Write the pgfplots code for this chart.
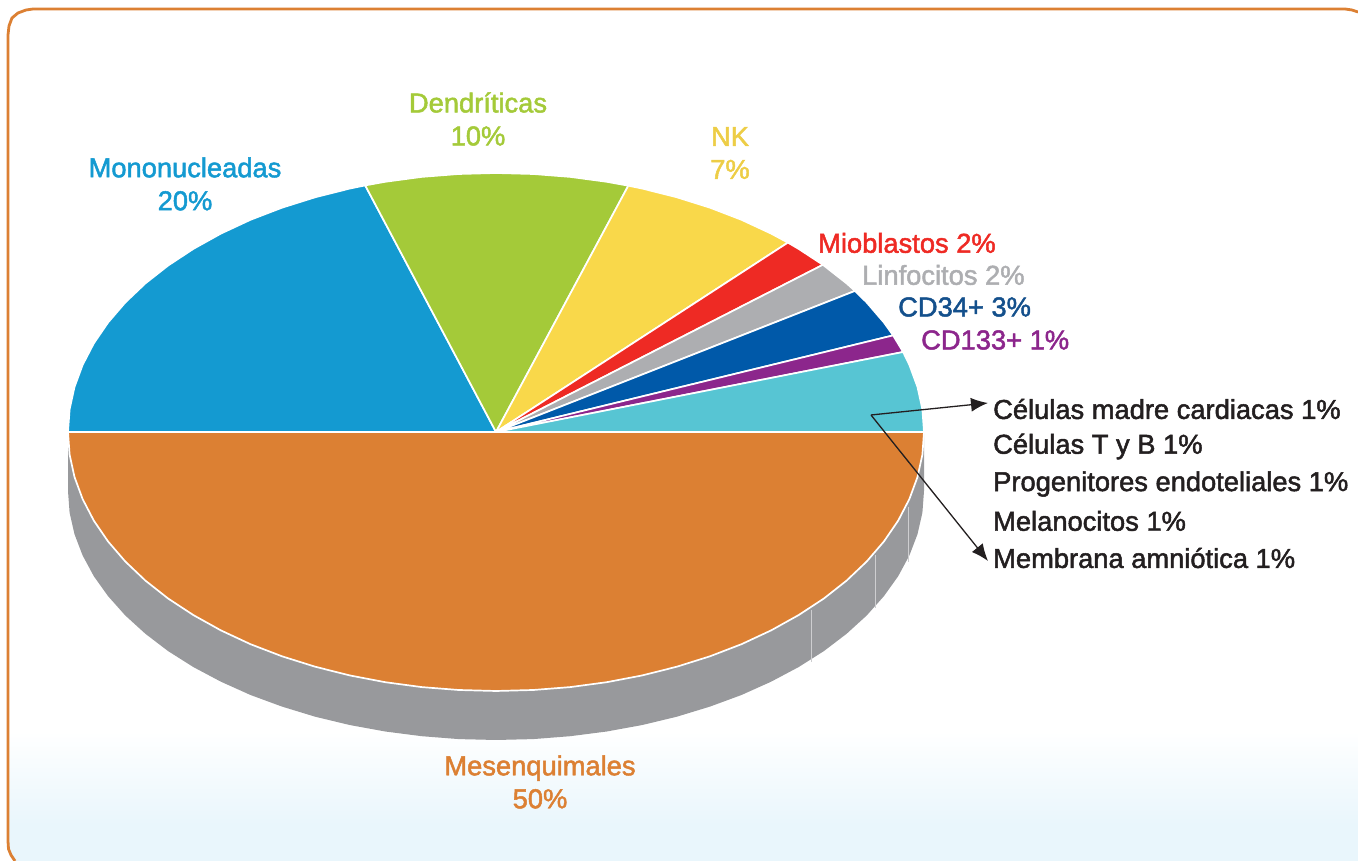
\documentclass[border=0pt]{standalone}
\usepackage{fontspec}
\setmainfont{Liberation Sans}[FakeBold=1.8]
\usepackage{pgfplots}
\pgfplotsset{compat=1.18}
\usetikzlibrary{arrows.meta}
\definecolor{cMono}{HTML}{149AD1}
\definecolor{cDend}{HTML}{A4CA39}
\definecolor{cNK}{HTML}{F9D84A}
\definecolor{cMio}{HTML}{EE2A24}
\definecolor{cLin}{HTML}{ADAEB1}
\definecolor{cCD34}{HTML}{0059A9}
\definecolor{cCD34t}{HTML}{14508C}
\definecolor{cCD133}{HTML}{8C268C}
\definecolor{cTeal}{HTML}{57C5D3}
\definecolor{cOr}{HTML}{DC8033}
\definecolor{cGr}{HTML}{98999C}
\definecolor{cBlue}{HTML}{E9F6FC}
\definecolor{cTxt}{HTML}{231F20}
\begin{document}
\begin{tikzpicture}
\path[use as bounding box] (0,0) rectangle (1358pt,861pt);
\begin{axis}[
  scale only axis, width=1358pt, height=861pt,
  xmin=0, xmax=1358, ymin=0, ymax=861,
  hide axis, clip=true,
  nodes={font=\fontsize{27.3}{32}\selectfont},
  wedge/.style={draw=white, line width=1.7pt, line join=round, fill=#1},
]
% panel background
\fill[top color=white, bottom color=cBlue] (axis cs:8,130) rectangle (axis cs:1358,36);
\fill[cBlue] (axis cs:8,36.5)--(axis cs:1358,36.5)--(axis cs:1358,0)--(axis cs:15,0)--(axis cs:11,6)--(axis cs:8.5,12)--cycle;
\addplot[draw=cOr, line width=2.8pt] coordinates {(15,0)(11,6)(8.5,12)(8,20)(8,826)(9,835)(12,843)(18,848)(26,851)(33,852)(1345,852)(1352,851)(1358,849)};
% side of the disc
\addplot[fill=cGr, draw=none] coordinates {
(68,429)(68,370)(69.6,348.3)(74.5,326.8)(82.6,305.6)(93.8,284.8)(108.1,264.8)(125.3,245.5)(145.4,227.2)(168.1,209.9)(193.4,193.9)(220.9,179.3)(250.5,166.0)(282,154.4)(315.1,144.3)(349.6,136.0)(385.2,129.5)(421.7,124.8)(458.7,121.9)(496,121)(533.3,121.9)(570.3,124.8)(606.8,129.5)(642.4,136.0)(676.9,144.3)(710,154.4)(741.5,166.0)(771.1,179.3)(798.6,193.9)(823.9,209.9)(846.6,227.2)(866.7,245.5)(883.9,264.8)(898.2,284.8)(909.4,305.6)(917.5,326.8)(922.4,348.3)(924,370)(924,429)} --cycle;
\addplot[draw=cLin!60!white, line width=0.8pt] coordinates {(908,354)(908,299)};
\addplot[draw=cLin!60!white, line width=0.8pt] coordinates {(875.5,306)(875.5,253)};
\addplot[draw=cLin!60!white, line width=0.8pt] coordinates {(811.5,251)(811.5,199)};
% Mesenquimales 50
\addplot[wedge=cOr] coordinates {
(68,429)(69.6,406.4)(74.5,384.0)(82.6,362.0)(93.8,340.4)(108.1,319.5)(125.3,299.5)(145.4,280.4)(168.1,262.5)(193.4,245.9)(220.9,230.6)(250.5,216.8)(282,204.7)(315.1,194.3)(349.6,185.6)(385.2,178.8)(421.7,173.9)(458.7,171.0)(496,170)(533.3,171.0)(570.3,173.9)(606.8,178.8)(642.4,185.6)(676.9,194.3)(710,204.7)(741.5,216.8)(771.1,230.6)(798.6,245.9)(823.9,262.5)(846.6,280.4)(866.7,299.5)(883.9,319.5)(898.2,340.4)(909.4,362.0)(917.5,384.0)(922.4,406.4)(924,429)} --cycle;
% Mononucleadas 20
\addplot[wedge=cMono] coordinates {
(496,429)(365.2,675.6)(349.6,672.4)(315.1,663.7)(282,653.3)(250.5,641.2)(220.9,627.4)(193.4,612.1)(168.2,595.5)(145.4,577.6)(125.3,558.5)(108.1,538.5)(93.8,517.6)(82.6,496.0)(74.5,474.0)(69.6,451.6)(68,429)} --cycle;
% Dendriticas 10
\addplot[wedge=cDend] coordinates {
(496,429)(628.3,675.3)(606.8,679.2)(570.3,684.1)(533.3,687.0)(496,688)(458.7,687.0)(421.7,684.1)(385.2,679.2)(365.2,675.6)} --cycle;
% NK 7
\addplot[wedge=cNK] coordinates {
(496,429)(787.9,618.4)(771.1,627.4)(741.5,641.2)(710,653.3)(676.9,663.7)(642.4,672.4)(628.3,675.3)} --cycle;
% Mioblastos 2
\addplot[wedge=cMio] coordinates {(496,429)(822.9,596.2)(798.6,612.1)(787.9,618.4)} --cycle;
% Linfocitos 2
\addplot[wedge=cLin] coordinates {(496,429)(855.0,570.1)(846.6,577.6)(822.9,596.2)} --cycle;
% CD34+ 3
\addplot[wedge=cCD34] coordinates {(496,429)(893.1,525.6)(883.9,538.5)(866.7,558.5)(855.0,570.1)} --cycle;
% CD133+ 1
\addplot[wedge=cCD133] coordinates {(496,429)(903.1,509.0)(893.1,525.6)} --cycle;
% remaining 5 x 1
\addplot[wedge=cTeal] coordinates {(496,429)(924,429)(922.4,451.6)(917.5,474.0)(909.4,496.0)(903.1,509.0)} --cycle;
% leaders
\addplot[draw=cTxt, line width=1.3pt, -{Latex[length=17pt,width=14pt]}] coordinates {(871,446)(988,458)};
\addplot[draw=cTxt, line width=1.3pt, -{Latex[length=17pt,width=14pt]}] coordinates {(871,446)(988,300)};
% labels
\node[text=cMono,align=center] at (axis cs:185,677) {Mononucleadas\\[1pt]20\%};
\node[text=cDend,align=center] at (axis cs:478,742) {Dendríticas\\[1pt]10\%};
\node[text=cNK!95!black,align=center] at (axis cs:730,708) {NK\\[1pt]7\%};
\node[text=cMio,anchor=west,inner sep=0pt] at (axis cs:818,618) {Mioblastos 2\%};
\node[text=cLin,anchor=west,inner sep=0pt] at (axis cs:862,586) {Linfocitos 2\%};
\node[text=cCD34t,anchor=west,inner sep=0pt] at (axis cs:898,554) {CD34+ 3\%};
\node[text=cCD133,anchor=west,inner sep=0pt] at (axis cs:921,521) {CD133+ 1\%};
\node[text=cTxt,anchor=west,inner sep=0pt] at (axis cs:993,452) {Células madre cardiacas 1\%};
\node[text=cTxt,anchor=west,inner sep=0pt] at (axis cs:993,414.5) {Células T y B 1\%};
\node[text=cTxt,anchor=west,inner sep=0pt] at (axis cs:993,377) {Progenitores endoteliales 1\%};
\node[text=cTxt,anchor=west,inner sep=0pt] at (axis cs:993,340) {Melanocitos 1\%};
\node[text=cTxt,anchor=west,inner sep=0pt] at (axis cs:993,303) {Membrana amniótica 1\%};
\node[text=cOr,align=center] at (axis cs:540,79) {Mesenquimales\\[1pt]50\%};
\end{axis}
\end{tikzpicture}
\end{document}
